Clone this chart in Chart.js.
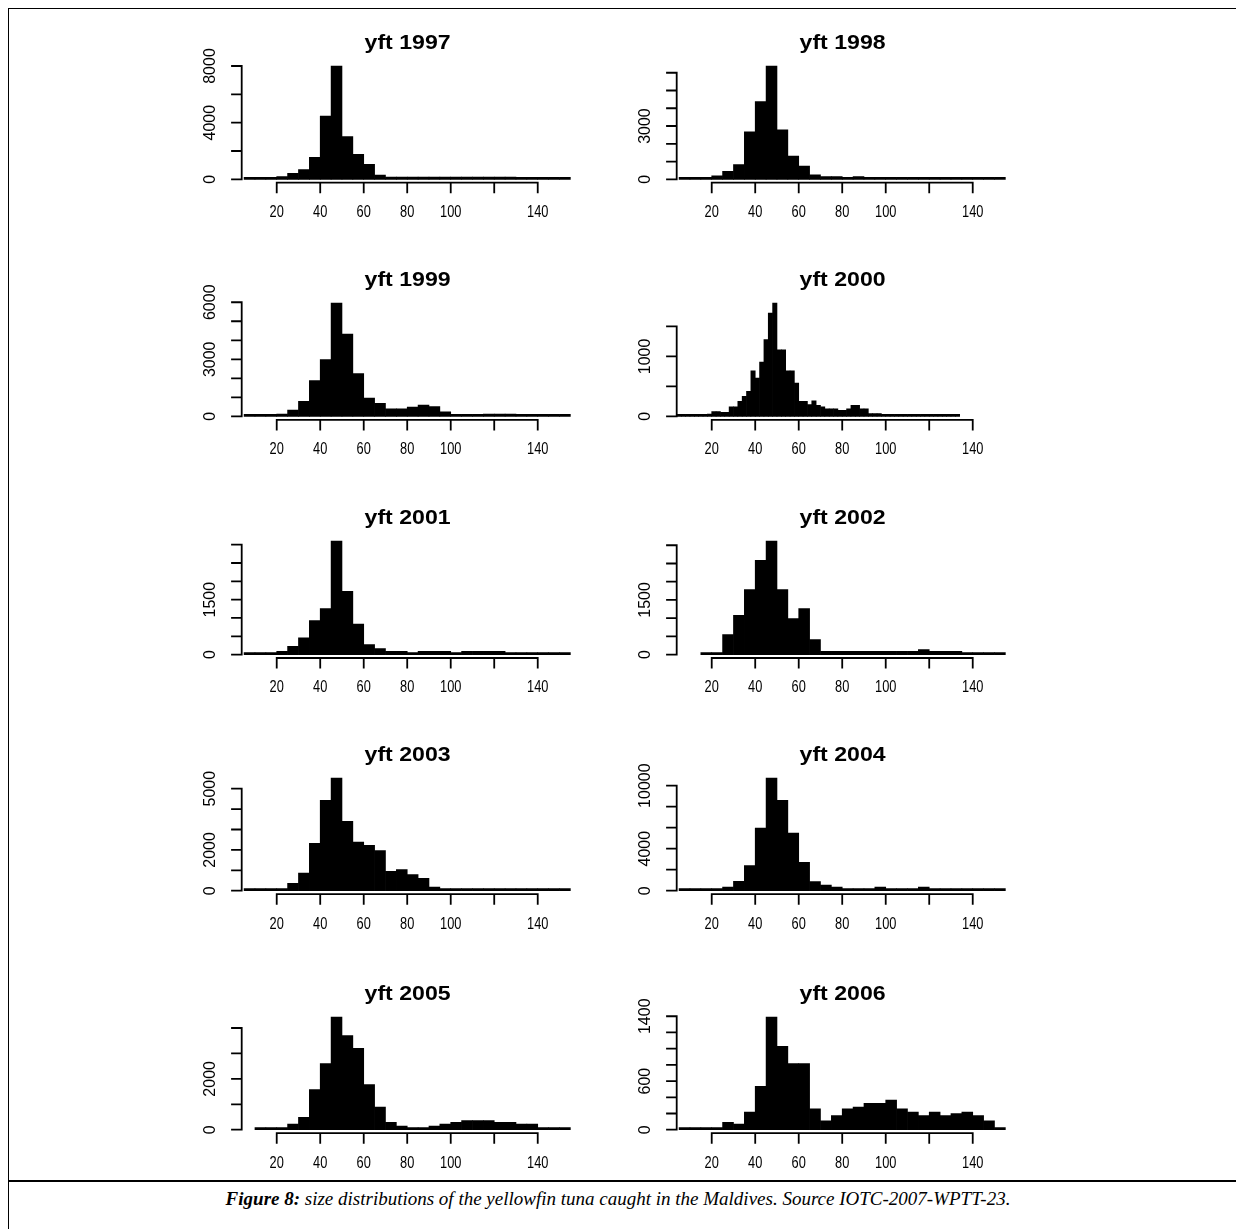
<!DOCTYPE html>
<html><head><meta charset="utf-8">
<script src="https://cdn.jsdelivr.net/npm/chart.js@4.4.1/dist/chart.umd.min.js"></script>
<style>
html,body{margin:0;padding:0;background:#fff;}
body{width:1236px;height:1229px;position:relative;overflow:hidden;}
canvas.panel{position:absolute;}
.ln{position:absolute;background:#000;}
#caption{position:absolute;left:0;width:1236px;top:1189px;text-align:center;font-family:"Liberation Serif","Times New Roman",serif;font-style:italic;font-size:19px;line-height:20px;color:#000;white-space:nowrap;}
</style>
</head><body>
<div class="ln" style="left:8px;top:8px;width:1228px;height:1px;"></div>
<div class="ln" style="left:8px;top:8px;width:1px;height:1221px;"></div>
<div class="ln" style="left:8px;top:1180px;width:1228px;height:2px;"></div>
<div id="caption"><b>Figure 8:</b> size distributions of the yellowfin tuna caught in the Maldives. Source IOTC-2007-WPTT-23.</div>
<script>
// ---------------- data ----------------
const years = ["1997","1998","1999","2000","2001","2002","2003","2004","2005","2006"];
const binStart = [5,5,5,4,5,15,5,5,10,5];
const binWidth = [5,5,5,2,5,5,5,5,5,5];

const counts1997 = [10,10,10,200,420,680,1550,4470,8000,3010,1760,1060,300,150,150,150,150,150,150,150,150,150,150,150,150,20,20,20,20,20];
const counts1998 = [0,0,0,190,450,825,2680,4370,6380,2780,1310,750,245,150,150,40,150,15,15,15,15,15,15,15,15,15,15,15,15,15];
const counts1999 = [0,0,0,120,330,790,1880,2980,5960,4330,2250,965,685,400,400,490,600,510,245,35,35,35,120,120,120,0,0,0,0,0];
const counts2000 = [0,0,0,0,0,0,0,40,80,80,67,67,160,160,250,333,417,760,640,905,1280,1720,1890,1110,1110,760,760,555,250,250,195,260,185,160,128,128,128,100,100,128,185,185,128,128,45,45,45,10,10,10,10,10,10,10,10,10,10,10,10,10,10,10,10,10,10];
const counts2001 = [0,0,0,90,227,455,927,1255,3100,1727,836,273,164,90,90,45,90,90,90,45,90,90,90,90,20,20,20,20,20,20];
const counts2002 = [0,0,548,1079,1783,2587,3117,1783,987,1261,411,91,91,91,91,91,91,91,91,91,137,91,91,91,0,0,0,0];
const counts2003 = [0,0,0,0,360,866,2320,4428,5523,3399,2386,2222,1961,948,1029,784,605,180,98,98,98,98,98,98,50,50,98,0,0,0];
const counts2004 = [0,0,0,0,350,890,2380,5970,10730,8600,5490,2700,860,540,350,190,190,190,350,190,190,190,350,190,190,0,0,0,0,0];
const counts2005 = [50,50,50,223,485,1574,2597,4433,3698,3200,1770,892,289,144,66,66,144,223,289,354,354,354,289,289,223,223,66,66,66];
const counts2006 = [0,0,21,21,90,70,218,535,1391,1029,815,815,259,111,173,259,280,325,325,366,259,218,173,218,173,198,218,173,111,21];
const allCounts = [counts1997,counts1998,counts1999,counts2000,counts2001,counts2002,counts2003,counts2004,counts2005,counts2006];

const xTicks = [20,40,60,80,100,120,140];
const xTickLabels = ["20","40","60","80","100","","140"];

const yTicks = [
  [0,2000,4000,6000,8000],
  [0,1000,2000,3000,4000,5000,6000],
  [0,1000,2000,3000,4000,5000,6000],
  [0,500,1000,1500],
  [0,500,1000,1500,2000,2500,3000],
  [0,500,1000,1500,2000,2500,3000],
  [0,1000,2000,3000,4000,5000],
  [0,2000,4000,6000,8000,10000],
  [0,1000,2000,3000,4000],
  [0,200,400,600,800,1000,1200,1400]
];
const yTickLabels = [
  ["0","","4000","","8000"],
  ["0","","","3000","","",""],
  ["0","","","3000","","","6000"],
  ["0","","1000",""],
  ["0","","","1500","","",""],
  ["0","","","1500","","",""],
  ["0","","2000","","","5000"],
  ["0","","4000","","","10000"],
  ["0","","2000","",""],
  ["0","","","600","","","","1400"]
];

// ---------------- layout ----------------
const COL_AXIS_X = [241.7, 676.7];
const PLOT_W = 331.7;
const ROW_ZERO_Y = [179.3, 416.7, 654.3, 891, 1130];
const ROW_TOP_Y = [66, 303.3, 540.7, 778.3, 1017.3];
const X_MIN = 3.9, X_MAX = 156.4;
const CAN_W = 450, CAN_H = 240, CAN_OFF_TOP = 62;
const COL_CAN_X = [150, 585];

const rAxes = {
  id: 'rAxes',
  afterDatasetsDraw(chart, args, o) {
    const ctx = chart.ctx, xs = chart.scales.x, ys = chart.scales.y, ca = chart.chartArea;
    ctx.save();
    ctx.strokeStyle = '#000'; ctx.fillStyle = '#000'; ctx.lineWidth = 1.8; ctx.lineCap = 'butt';
    const y0 = ys.getPixelForValue(0);
    // x axis
    const ay = y0 + 3.4;
    ctx.beginPath();
    ctx.moveTo(xs.getPixelForValue(o.xTicks[0]) - 0.9, ay);
    ctx.lineTo(xs.getPixelForValue(o.xTicks[o.xTicks.length - 1]) + 0.9, ay);
    o.xTicks.forEach(v => { const p = xs.getPixelForValue(v); ctx.moveTo(p, ay); ctx.lineTo(p, ay + 10.6); });
    ctx.stroke();
    ctx.font = '16px "Liberation Sans", Arial, sans-serif';
    ctx.textAlign = 'center'; ctx.textBaseline = 'middle';
    o.xTicks.forEach((v, i) => {
      const lab = o.xLabels[i]; if (!lab) return;
      ctx.save(); ctx.translate(xs.getPixelForValue(v), ay + 30); ctx.scale(0.8, 1);
      ctx.fillText(lab, 0, 0); ctx.restore();
    });
    // y axis
    const ax = ca.left;
    ctx.beginPath();
    ctx.moveTo(ax, y0 + 0.9);
    ctx.lineTo(ax, ys.getPixelForValue(o.yTicks[o.yTicks.length - 1]) - 0.9);
    o.yTicks.forEach(v => { const p = ys.getPixelForValue(v); ctx.moveTo(ax, p); ctx.lineTo(ax - 10.6, p); });
    ctx.stroke();
    ctx.font = '16px "Liberation Sans", Arial, sans-serif';
    o.yTicks.forEach((v, i) => {
      const lab = o.yLabels[i]; if (!lab) return;
      ctx.save(); ctx.translate(ax - 31, ys.getPixelForValue(v)); ctx.rotate(-Math.PI / 2);
      ctx.fillText(lab, 0, 0); ctx.restore();
    });
    // title
    ctx.font = 'bold 21px "Liberation Sans", Arial, sans-serif';
    ctx.textBaseline = 'alphabetic';
    ctx.save(); ctx.translate((ca.left + ca.right) / 2, ca.top - 17); ctx.scale(1.1, 1);
    ctx.fillText(o.title, 0, 0); ctx.restore();
    ctx.restore();
  }
};

years.forEach((yr, k) => {
  const col = k % 2, row = Math.floor(k / 2);
  const cv = document.createElement('canvas');
  cv.className = 'panel';
  cv.width = CAN_W; cv.height = CAN_H;
  const canX = COL_CAN_X[col], canY = ROW_TOP_Y[row] - CAN_OFF_TOP;
  cv.style.left = canX + 'px'; cv.style.top = canY + 'px';
  cv.style.width = CAN_W + 'px'; cv.style.height = CAN_H + 'px';
  document.body.appendChild(cv);
  const counts = allCounts[k];
  const pts = counts.map((c, i) => ({ x: binStart[k] + (i + 0.5) * binWidth[k], y: c }));
  const padL = COL_AXIS_X[col] - canX;
  const padR = canX + CAN_W - (COL_AXIS_X[col] + PLOT_W);
  const padT = CAN_OFF_TOP;
  const padB = canY + CAN_H - ROW_ZERO_Y[row];
  new Chart(cv, {
    type: 'bar',
    data: { datasets: [{ data: pts, backgroundColor: '#000', borderWidth: 0, barPercentage: 1, categoryPercentage: 1, minBarLength: 2, clip: 4 }] },
    options: {
      responsive: false, animation: false, devicePixelRatio: 1, events: [],
      layout: { padding: { left: padL, right: padR, top: padT, bottom: padB } },
      plugins: { legend: { display: false }, tooltip: { enabled: false }, title: { display: false },
        rAxes: { title: 'yft ' + yr, xTicks: xTicks, xLabels: xTickLabels, yTicks: yTicks[k], yLabels: yTickLabels[k] } },
      scales: {
        x: { type: 'linear', min: X_MIN, max: X_MAX, offset: false, display: false },
        y: { type: 'linear', min: 0, max: Math.max(...counts), display: false }
      }
    },
    plugins: [rAxes]
  });
});
</script>
</body></html>
